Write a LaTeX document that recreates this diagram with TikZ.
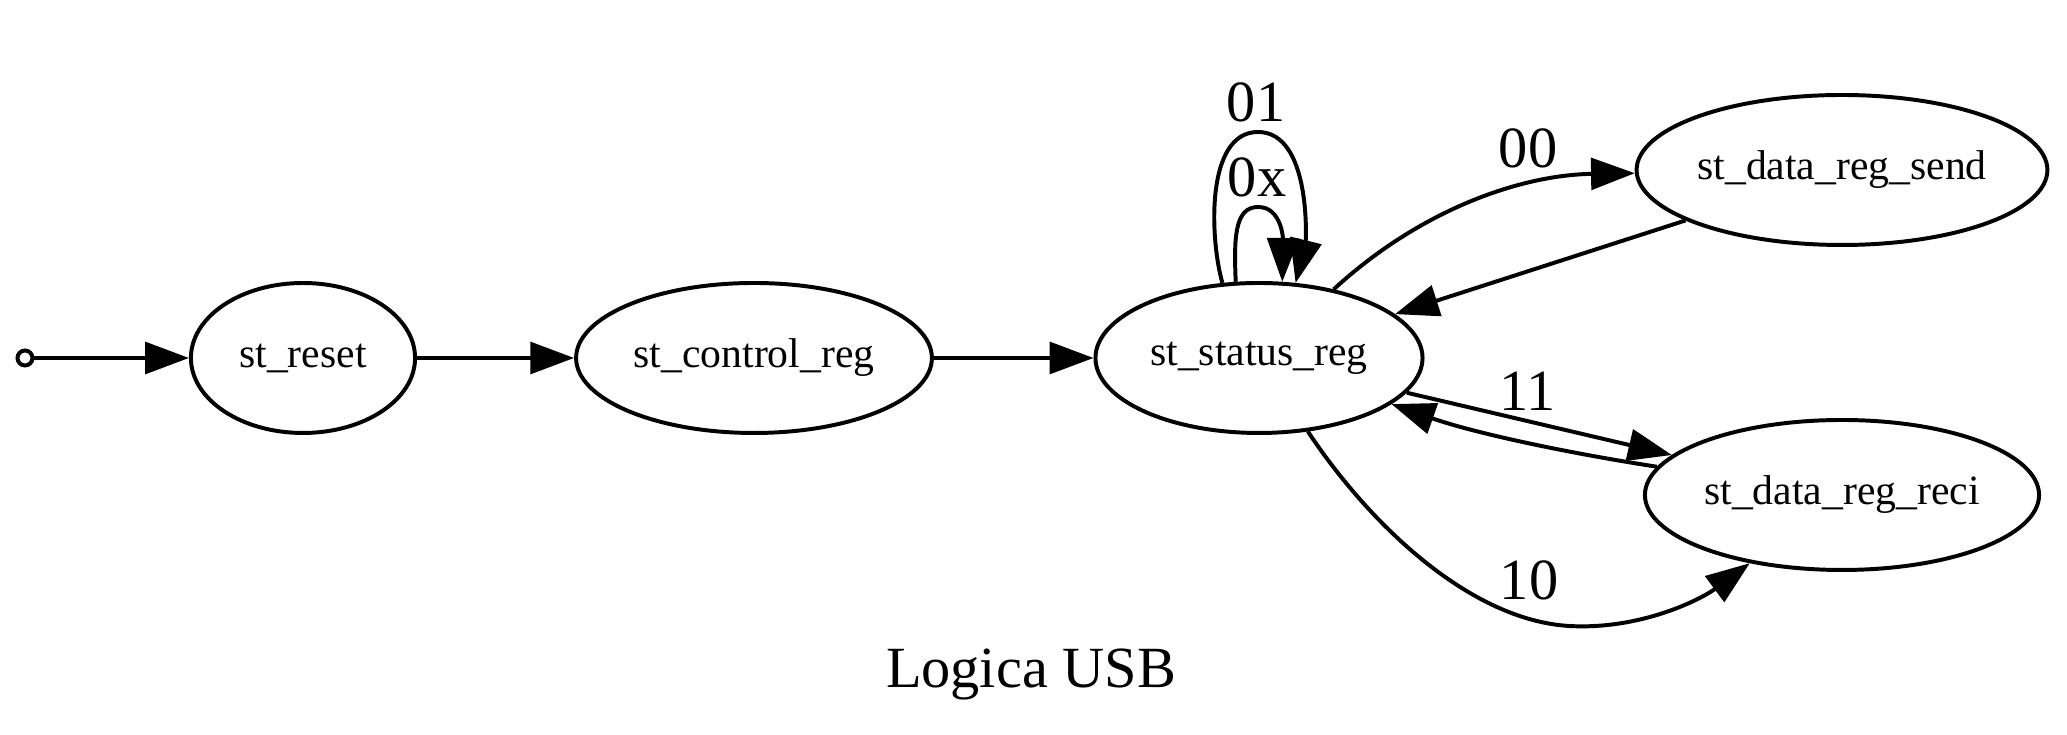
\documentclass[tikz,border=0pt]{standalone}
\usepackage{fontspec}
\setmainfont{Liberation Serif}
\usetikzlibrary{shapes.geometric,arrows.meta}
\begin{document}
\begin{tikzpicture}[x=0.24pt,y=-0.24pt,
  state/.style={ellipse,draw,line width=0.95pt,inner sep=0pt,minimum height=36pt,font=\fontsize{10}{12}\selectfont},
  edge/.style={line width=0.95pt,-{Triangle[length=10.5pt,width=7.6pt]}},
  lbl/.style={font=\fontsize{14}{16}\selectfont,anchor=base,inner sep=0pt}]
\useasboundingbox (0,0) rectangle (2067,735);
\node[circle,draw,line width=0.95pt,minimum size=3.6pt,inner sep=0pt] (init) at (25,358) {};
\node[state,minimum width=53.8pt] (reset) at (303,358) {st\_reset};
\node[state,minimum width=85.4pt] (control) at (754,358) {st\_control\_reg};
\node[state,minimum width=78.5pt] (status) at (1259,358) {st\_status\_reg};
\node[state,minimum width=98.6pt] (send) at (1842,170) {st\_data\_reg\_send};
\node[state,minimum width=94.6pt] (reci) at (1842,495) {st\_data\_reg\_reci};
\draw[edge] (init) -- (reset);
\draw[edge] (reset) -- (control);
\draw[edge] (control) -- (status);
\draw[edge] (status.107) .. controls (1234,240) and (1234,207) .. (1258,207) .. controls (1282,207) and (1283,240) .. (status.73);
\draw[edge] (status.116) .. controls (1210,240) and (1205,132) .. (1258,132) .. controls (1311,132) and (1306,240) .. (status.64);
\draw[edge] (status) .. controls (1420,210) and (1520,175) .. (send);
\draw[edge] (send) -- (status);
\draw[edge] (status) -- (reci);
\draw[edge] (reci) .. controls (1580,455) and (1480,435) .. (status);
\draw[edge] (status) .. controls (1370,525) and (1470,620) .. (1569,626) .. controls (1640,630) and (1700,600) .. (reci);
\node[lbl] (l01) at (1256,122) {01};
\node[lbl] (l0x) at (1257,197) {0x};
\node[lbl] (l00) at (1528,168) {00};
\node[lbl] (l11) at (1528,411) {11};
\node[lbl] (l10) at (1529,600) {10};
\node[lbl] (title) at (1031,688) {Logica USB};
\end{tikzpicture}
\end{document}
